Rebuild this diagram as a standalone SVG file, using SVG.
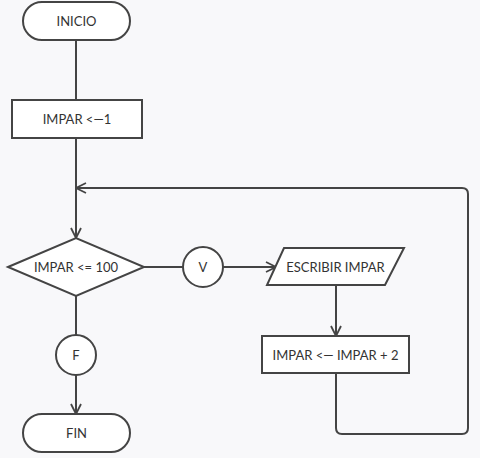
<svg xmlns="http://www.w3.org/2000/svg" width="480" height="458" viewBox="0 0 480 458">
<defs>
<marker id="arr" viewBox="0 0 12 12" refX="11" refY="6" markerWidth="12" markerHeight="12" markerUnits="userSpaceOnUse" orient="auto">
<path d="M1,1 L11,6 L1,11" fill="none" stroke="#444" stroke-width="1.8"/>
</marker>
<style>
.s{fill:#fff;stroke:#444;stroke-width:2}
.c{fill:none;stroke:#444;stroke-width:2}
text{font-family:Lato,"Liberation Sans",sans-serif;font-size:13px;fill:#333;text-anchor:middle;dominant-baseline:central}
</style>
</defs>
<rect width="480" height="458" fill="#f8f8fa"/>
<g id="connectors">
<path class="c" d="M76,40 V100"/>
<path class="c" d="M76,138 V238" marker-end="url(#arr)"/>
<path class="c" d="M144,267 H183"/>
<path class="c" d="M223,267 H276" marker-end="url(#arr)"/>
<path class="c" d="M336,285 V336" marker-end="url(#arr)"/>
<path class="c" d="M336,373 V428 Q336,434 342,434 H462 Q468,434 468,428 V194 Q468,188 462,188 H76" marker-end="url(#arr)"/>
<path class="c" d="M76,296 V335"/>
<path class="c" d="M76,375 V414" marker-end="url(#arr)"/>
</g>
<g id="inicio"><rect class="s" x="23" y="2" width="107" height="38" rx="19"/><text x="76.5" y="21">INICIO</text></g>
<g id="asig1"><rect class="s" x="12" y="100" width="130" height="38"/><text x="77" y="119">IMPAR &lt;—1</text></g>
<g id="cond"><polygon class="s" points="8,267 76,238 144,267 76,296"/><text x="76" y="267">IMPAR &lt;= 100</text></g>
<g id="v"><circle class="s" cx="203" cy="267" r="20"/><text x="203" y="267">V</text></g>
<g id="escribir"><polygon class="s" points="284,248 404,248 385,285 267,285"/><text x="335.5" y="267">ESCRIBIR IMPAR</text></g>
<g id="incr"><rect class="s" x="262" y="336" width="147" height="37"/><text x="335.5" y="355">IMPAR &lt;— IMPAR + 2</text></g>
<g id="f"><circle class="s" cx="76" cy="355" r="20"/><text x="76" y="355">F</text></g>
<g id="fin"><rect class="s" x="23" y="414" width="107" height="38" rx="19"/><text x="76.5" y="433">FIN</text></g>
</svg>
